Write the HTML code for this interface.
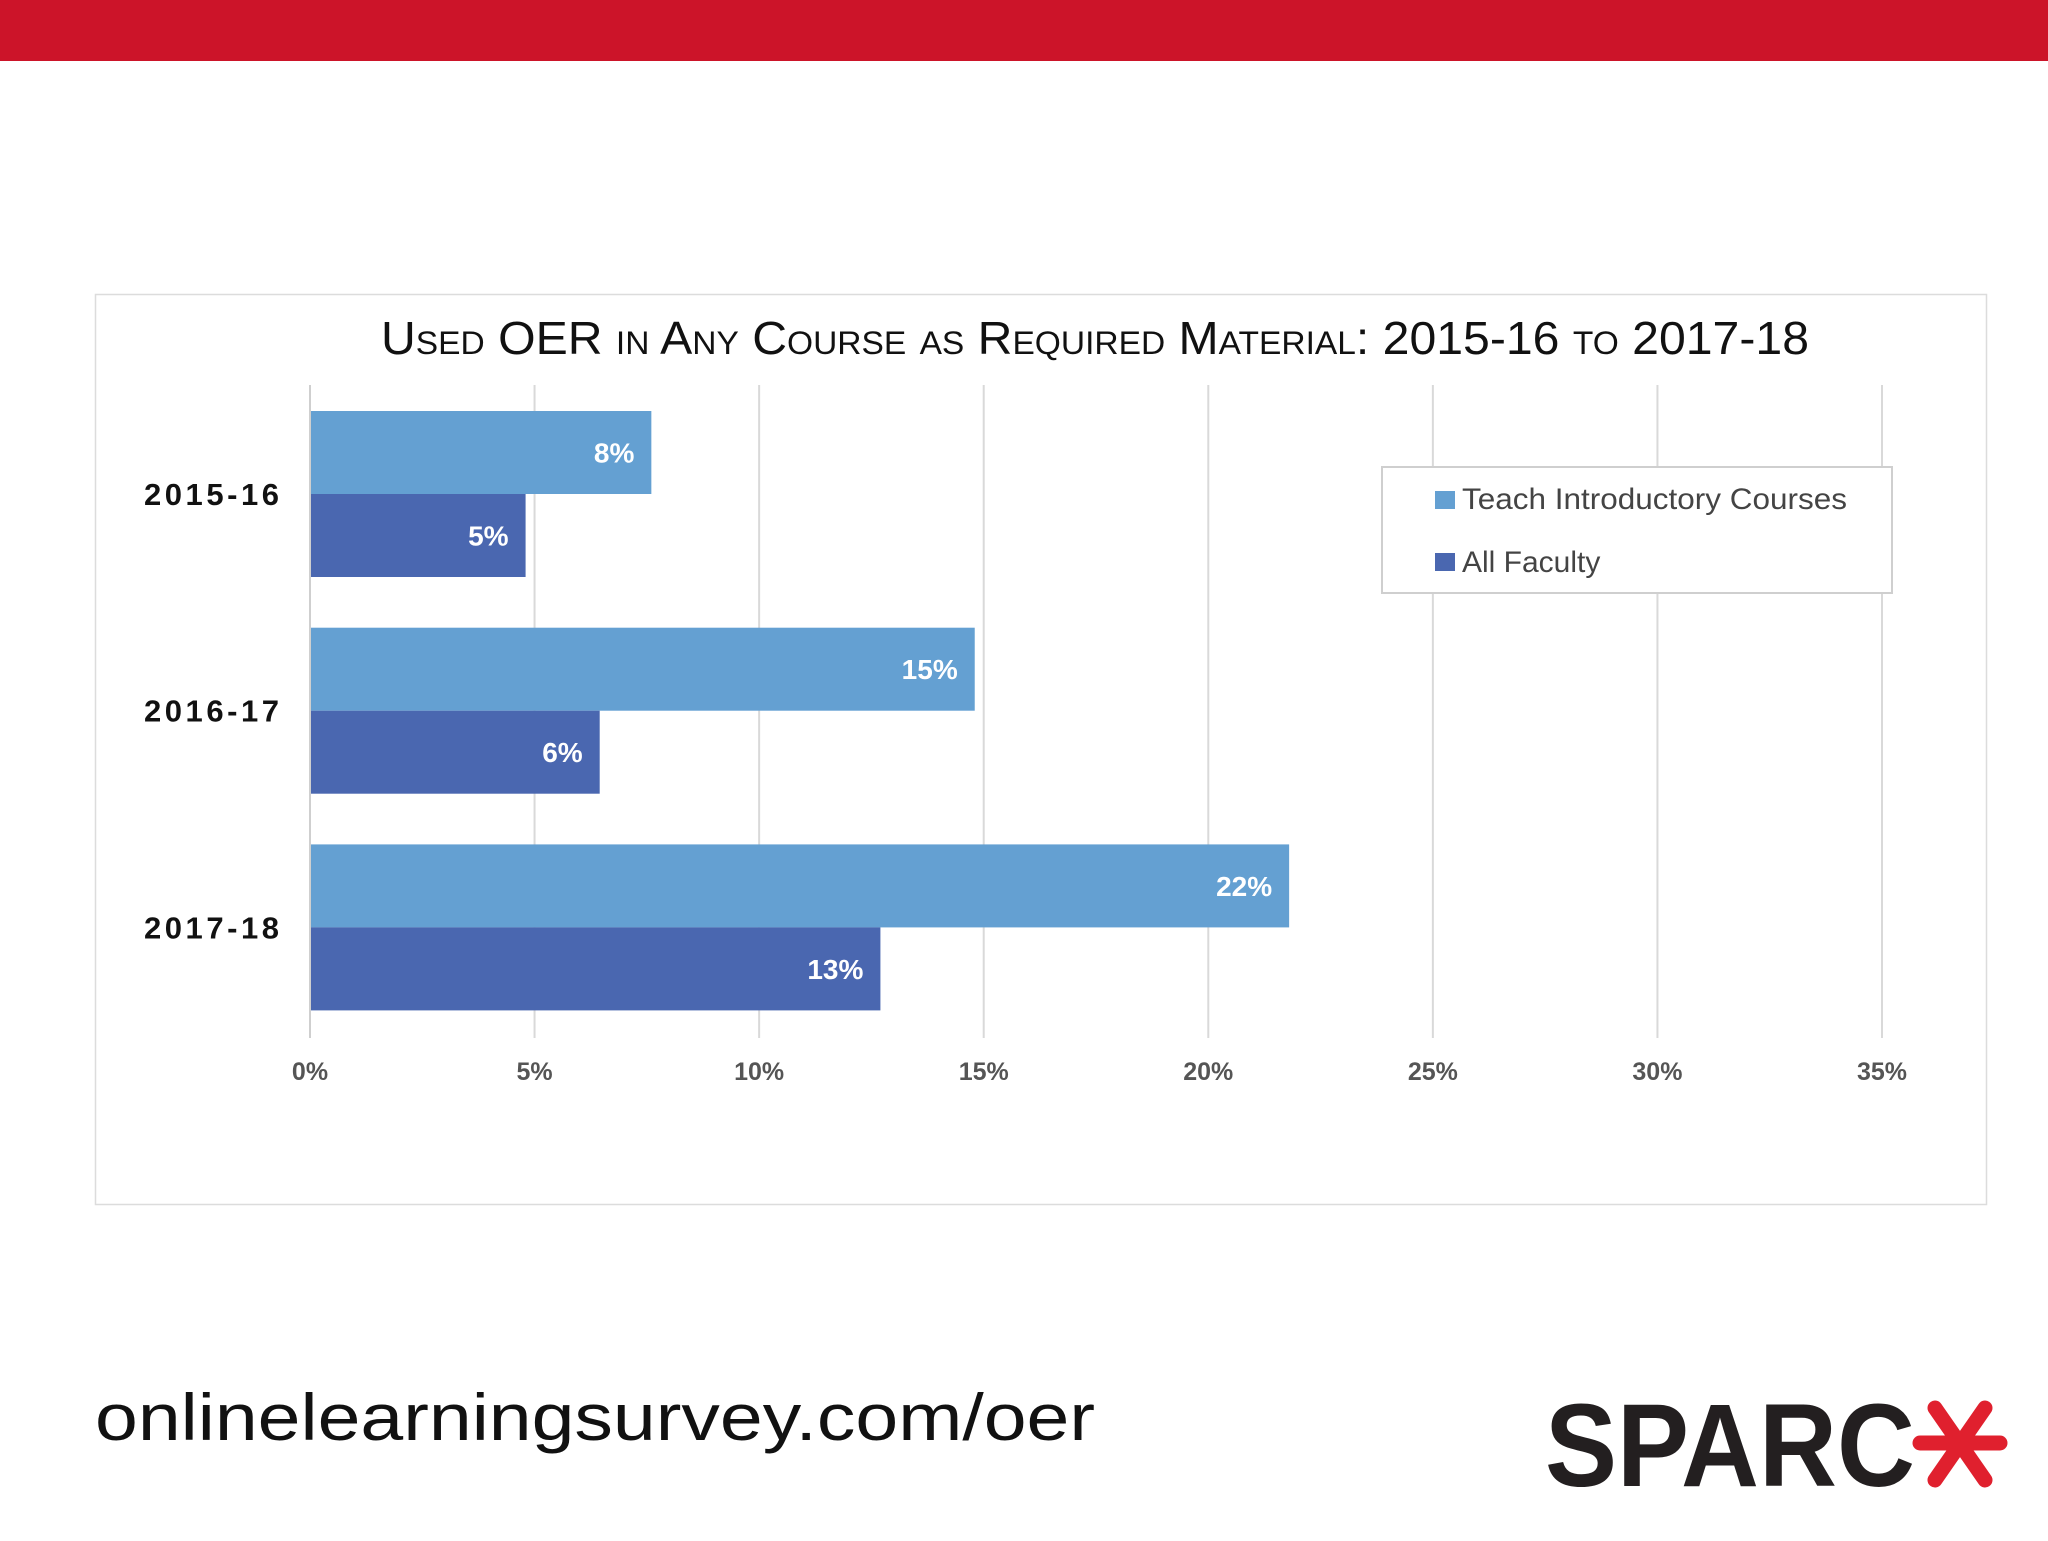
<!DOCTYPE html>
<html><head><meta charset="utf-8"><style>
body{margin:0;width:2048px;height:1536px;background:#fff;overflow:hidden;font-family:"Liberation Sans",sans-serif}
</style></head><body>
<svg width="2048" height="1536" viewBox="0 0 2048 1536">
<rect x="0" y="0" width="2048" height="61" fill="#cc1429"/>
<rect x="95.5" y="294.5" width="1891" height="910" fill="#fff" stroke="#dcdcdc" stroke-width="1.5"/>
<text x="381" y="354" font-size="46" font-variant="small-caps" textLength="1428" lengthAdjust="spacingAndGlyphs" fill="#111">Used OER in Any Course as Required Material: 2015-16 to 2017-18</text>
<g id="grid"></g>
<g id="bars"></g>
<g id="legend">
<rect x="1382" y="467" width="510" height="126" fill="#fff" stroke="#cfcfcf" stroke-width="2"/>
<rect x="1435" y="491" width="20" height="18" fill="#64a0d2"/>
<text x="1462" y="509" font-size="30" fill="#444" textLength="385" lengthAdjust="spacingAndGlyphs">Teach Introductory Courses</text>
<rect x="1435" y="553" width="20" height="18" fill="#4a67b0"/>
<text x="1462" y="572" font-size="30" fill="#444">All Faculty</text>
</g>
<text x="95" y="1440" font-size="66" fill="#111" textLength="1000" lengthAdjust="spacingAndGlyphs">onlinelearningsurvey.com/oer</text>
<g>
<text x="1545" y="1486" font-size="118" font-weight="bold" fill="#231f20" textLength="370" lengthAdjust="spacingAndGlyphs">SPARC</text>
<g stroke="#e0202e" stroke-width="15" stroke-linecap="round">
<line x1="1920" y1="1443" x2="2000" y2="1443"/>
<line x1="1935" y1="1408" x2="1985" y2="1480"/>
<line x1="1985" y1="1408" x2="1935" y2="1480"/>
</g></g>
</svg>
<script>
const categories=["2015-16","2016-17","2017-18"];
const introValues=[7.6,14.8,21.8];
const allValues=[4.8,6.45,12.7];
const introLabels=["8%","15%","22%"];
const allLabels=["5%","6%","13%"];
const ticks=[0,5,10,15,20,25,30,35];
const tickLabels=["0%","5%","10%","15%","20%","25%","30%","35%"];
const NS="http://www.w3.org/2000/svg";
const x0=310,x1=1882,xmax=35;
function xs(v){return x0+(x1-x0)*v/xmax;}
const gTop=411,gStep=216.7,barH=83;
function mk(t,a,p){const e=document.createElementNS(NS,t);for(const k in a)e.setAttribute(k,a[k]);p.appendChild(e);return e;}
const grid=document.getElementById('grid'),bars=document.getElementById('bars');
ticks.forEach((t,i)=>{
 const l=mk('line',{x1:xs(t),x2:xs(t),y1:385,y2:1038,stroke:'#d9d9d9','stroke-width':2},grid);
 
 
 const tx=mk('text',{x:xs(t),y:1080,'font-size':25,'font-weight':'bold',fill:'#555','text-anchor':'middle'},grid);
 tx.textContent=tickLabels[i];
 
 
});
categories.forEach((c,i)=>{
 const y=gTop+i*gStep;
 const b1=mk('rect',{x:x0,y:y,width:xs(introValues[i])-x0,height:barH,fill:'#64a0d2'},bars);
 
 
 const b2=mk('rect',{x:x0,y:y+barH,width:xs(allValues[i])-x0,height:barH,fill:'#4a67b0'},bars);
 
 
 const l1=mk('text',{x:xs(introValues[i])-17,y:y+barH/2+10,'font-size':28,'font-weight':'bold',fill:'#fff','text-anchor':'end'},bars);
 l1.textContent=introLabels[i];
 
 
 const l2=mk('text',{x:xs(allValues[i])-17,y:y+barH*1.5+10,'font-size':28,'font-weight':'bold',fill:'#fff','text-anchor':'end'},bars);
 l2.textContent=allLabels[i];
 
 
 const cl=mk('text',{x:279,y:y+barH+11,'font-size':31,'font-weight':'bold',fill:'#111','text-anchor':'end',textLength:135,lengthAdjust:'spacing'},bars);
 cl.textContent=c;
 
 
});
const ax=mk('line',{x1:x0,x2:x0,y1:385,y2:1038,stroke:'#cfcfcf','stroke-width':2},bars);


</script>
</body></html>
